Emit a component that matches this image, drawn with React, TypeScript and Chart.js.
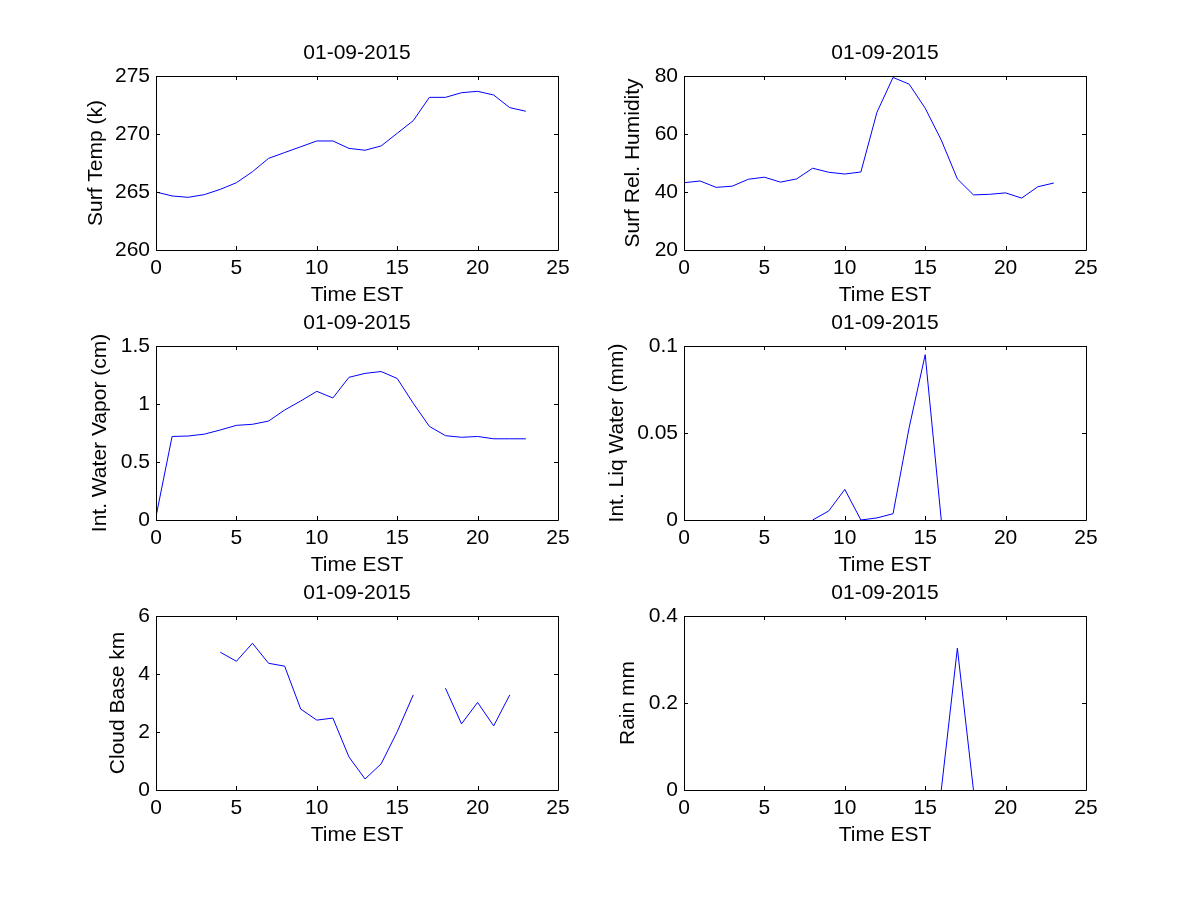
import React, { useEffect, useRef } from "react";
import { Chart, registerables } from "chart.js";

Chart.register(...registerables);

const hours = [0, 1, 2, 3, 4, 5, 6, 7, 8, 9, 10, 11, 12, 13, 14, 15, 16, 17, 18, 19, 20, 21, 22, 23];
const xTicks = [0, 5, 10, 15, 20, 25];
const dateTitle = "01-09-2015";
const xLabel = "Time EST";

const surfTemp = [265.0, 264.66, 264.54, 264.77, 265.23, 265.8, 266.75, 267.9, 268.4, 268.9, 269.4, 269.4, 268.76, 268.6, 268.97, 270.06, 271.15, 273.16, 273.16, 273.56, 273.68, 273.36, 272.27, 271.96];
const relHumidity = [43.2, 43.8, 41.6, 42.0, 44.4, 45.1, 43.4, 44.5, 48.2, 46.8, 46.2, 46.9, 67.5, 79.5, 77.2, 68.9, 57.9, 44.5, 39.0, 39.2, 39.7, 37.9, 41.8, 43.1];
const waterVapor = [0.03, 0.72, 0.724, 0.74, 0.776, 0.816, 0.825, 0.853, 0.948, 1.026, 1.109, 1.052, 1.23, 1.264, 1.28, 1.22, 1.006, 0.807, 0.727, 0.713, 0.72, 0.7, 0.7, 0.7];
const liqWater = [null, null, null, null, null, null, null, null, 0, 0.0052, 0.0176, 0, 0.0012, 0.0036, 0.053, 0.095, 0, null, null, null, null, null, null, null];
const cloudBase = [null, null, null, null, 4.75, 4.44, 5.06, 4.37, 4.27, 2.79, 2.41, 2.48, 1.14, 0.38, 0.9, 2.01, 3.28, null, 3.51, 2.28, 3.02, 2.21, 3.28, null];
const rain = [null, null, null, null, null, null, null, null, null, null, null, null, null, null, null, null, 0, 0.326, 0, null, null, null, null, null];

const tempTicks = [260, 265, 270, 275];
const humTicks = [20, 40, 60, 80];
const vaporTicks = [0, 0.5, 1, 1.5];
const liqTicks = [0, 0.05, 0.1];
const cloudTicks = [0, 2, 4, 6];
const rainTicks = [0, 0.2, 0.4];

type Panel = {
  ylabel: string;
  values: (number | null)[];
  yTicks: number[];
  left: number;
  top: number;
  ylabelOffset: number;
};

const panels: Panel[] = [
  { ylabel: "Surf Temp (k)", values: surfTemp, yTicks: tempTicks, left: 156, top: 76, ylabelOffset: 60 },
  { ylabel: "Surf Rel. Humidity", values: relHumidity, yTicks: humTicks, left: 684, top: 76, ylabelOffset: 51 },
  { ylabel: "Int. Water Vapor (cm)", values: waterVapor, yTicks: vaporTicks, left: 156, top: 346, ylabelOffset: 56 },
  { ylabel: "Int. Liq Water (mm)", values: liqWater, yTicks: liqTicks, left: 684, top: 346, ylabelOffset: 67 },
  { ylabel: "Cloud Base km", values: cloudBase, yTicks: cloudTicks, left: 156, top: 616, ylabelOffset: 38 },
  { ylabel: "Rain mm", values: rain, yTicks: rainTicks, left: 684, top: 616, ylabelOffset: 56 },
];

const AW = 402;
const AH = 174;
const PAD_L = 150;
const PAD_T = 50;
const PAD_R = 40;
const PAD_B = 80;
const FONT = "'Liberation Sans', Arial, Helvetica, sans-serif";
const FS = 21;

function fmt(v: number) {
  return String(Math.round(v * 10000) / 10000);
}

function PanelChart({ p }: { p: Panel }) {
  const ref = useRef<HTMLCanvasElement | null>(null);
  useEffect(() => {
    if (!ref.current) return;
    const yMin = p.yTicks[0];
    const yMax = p.yTicks[p.yTicks.length - 1];
    const yStep = p.yTicks[1] - p.yTicks[0];
    const framePlugin = {
      id: "frame",
      afterDraw(chart: any) {
        const { ctx, chartArea } = chart;
        const { left, top, right, bottom } = chartArea;
        const xs = chart.scales.x;
        const ys = chart.scales.y;
        ctx.save();
        ctx.strokeStyle = "#000";
        ctx.lineWidth = 1;
        ctx.beginPath();
        ctx.rect(Math.round(left) + 0.5, Math.round(top) + 0.5, Math.round(right - left), Math.round(bottom - top));
        ctx.stroke();
        const tl = 4;
        ctx.beginPath();
        for (const t of xs.ticks) {
          const px = Math.round(xs.getPixelForValue(t.value)) + 0.5;
          ctx.moveTo(px, bottom);
          ctx.lineTo(px, bottom - tl);
          ctx.moveTo(px, top);
          ctx.lineTo(px, top + tl);
        }
        for (const t of ys.ticks) {
          const py = Math.round(ys.getPixelForValue(t.value)) + 0.5;
          ctx.moveTo(left, py);
          ctx.lineTo(left + tl, py);
          ctx.moveTo(right, py);
          ctx.lineTo(right - tl, py);
        }
        ctx.stroke();
        ctx.fillStyle = "#000";
        ctx.font = `${FS}px ${FONT}`;
        ctx.textAlign = "center";
        ctx.textBaseline = "middle";
        const cx = (left + right) / 2;
        ctx.fillText(dateTitle, cx, top - 23);
        ctx.fillText(xLabel, cx, bottom + 45);
        ctx.translate(left - p.ylabelOffset, (top + bottom) / 2);
        ctx.rotate(-Math.PI / 2);
        ctx.fillText(p.ylabel, 0, 0);
        ctx.restore();
      },
    };
    const chart = new Chart(ref.current, {
      type: "line",
      data: {
        datasets: [
          {
            data: hours.map((h, i) => ({ x: h, y: p.values[i] as any })),
            borderColor: "#0000ff",
            borderWidth: 1,
            pointRadius: 0,
            tension: 0,
            spanGaps: false,
            fill: false,
          },
        ],
      },
      options: {
        animation: false,
        responsive: false,
        maintainAspectRatio: false,
        devicePixelRatio: 1,
        layout: { padding: { left: 0, top: PAD_T, right: PAD_R, bottom: 0 } },
        plugins: { legend: { display: false }, tooltip: { enabled: false }, title: { display: false } },
        scales: {
          x: {
            type: "linear",
            min: xTicks[0],
            max: xTicks[xTicks.length - 1],
            afterBuildTicks: (s: any) => {
              s.ticks = xTicks.map((v) => ({ value: v }));
            },
            afterFit: (s: any) => {
              s.height = PAD_B;
            },
            grid: { display: false, drawTicks: false },
            border: { display: false },
            ticks: {
              autoSkip: false,
              maxRotation: 0,
              padding: 6,
              color: "#000",
              font: { family: FONT, size: FS },
              callback: (v: any) => fmt(Number(v)),
            },
          },
          y: {
            type: "linear",
            min: yMin,
            max: yMax,
            afterBuildTicks: (s: any) => {
              s.ticks = p.yTicks.map((v) => ({ value: v }));
            },
            afterFit: (s: any) => {
              s.width = PAD_L;
            },
            grid: { display: false, drawTicks: false },
            border: { display: false },
            ticks: {
              stepSize: yStep,
              autoSkip: false,
              padding: 6,
              color: "#000",
              font: { family: FONT, size: FS },
              callback: (v: any) => fmt(Number(v)),
            },
          },
        },
      },
      plugins: [framePlugin],
    });
    return () => chart.destroy();
  }, [p]);
  const w = PAD_L + AW + PAD_R;
  const h = PAD_T + AH + PAD_B;
  return (
    <canvas
      ref={ref}
      width={w}
      height={h}
      style={{ position: "absolute", left: p.left - PAD_L, top: p.top - PAD_T, width: w, height: h }}
    />
  );
}

export default function App() {
  return (
    <div style={{ position: "absolute", left: 0, top: 0, width: 1200, height: 900, background: "#fff", overflow: "hidden" }}>
      {panels.map((p, i) => (
        <PanelChart key={i} p={p} />
      ))}
    </div>
  );
}
